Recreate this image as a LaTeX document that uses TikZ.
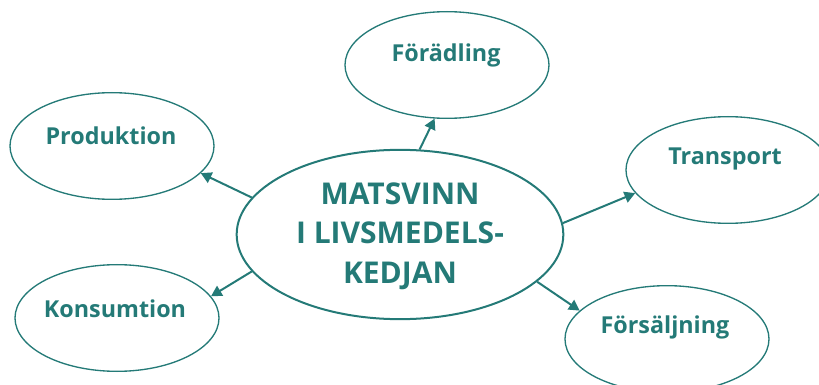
\documentclass[tikz,border=0pt]{standalone}
\usepackage{fontspec}
\setmainfont{Open Sans}
\usetikzlibrary{shapes.geometric,arrows.meta}
\definecolor{kedja}{RGB}{36,122,119}

\begin{document}
\begin{tikzpicture}[x=0.75pt,y=-0.75pt,
  bubble/.style={draw=kedja,line width=1pt,ellipse,inner sep=0pt,minimum width=153pt,minimum height=80pt},
  word/.style={text=kedja,font=\bfseries\fontsize{17.5}{18}\selectfont,anchor=base,inner sep=0pt},
  pil/.style={draw=kedja,line width=1.5pt,-{Triangle[length=8pt,width=8.5pt]}}]
\useasboundingbox (0,0) rectangle (819,385);
\node[bubble,line width=1.5pt,minimum width=245pt,minimum height=127pt] (mat) at (400,234.5) {};
\node[text=kedja,font=\bfseries\fontsize{22.5}{29.5}\selectfont,align=center] (mattext) at (400,236) {MATSVINN\\I LIVSMEDELS-\\KEDJAN};
\node[bubble] (fora) at (447,65) {};
\node[bubble] (prod) at (112,146) {};
\node[bubble] (kons) at (117,318) {};
\node[bubble] (tran) at (728,170) {};
\node[bubble] (fors) at (667,339) {};
\node[word] (foratext) at (446,62) {Förädling};
\node[word] (prodtext) at (111,145) {Produktion};
\node[word] (konstext) at (115,317) {Konsumtion};
\node[word] (trantext) at (725,165) {Transport};
\node[word] (forstext) at (665,334) {Försäljning};
%\draw[red] (mat.center) -- (fora.center);
\draw[pil] (mat.77) -- (fora.257);
\draw[pil] (mat.166) -- (prod.-17);
\draw[pil] (mat.194) -- (kons.13);
\draw[pil] (mat.4) -- (tran.194);
\draw[pil] (mat.-19) -- (fors.162);
\end{tikzpicture}
\end{document}
